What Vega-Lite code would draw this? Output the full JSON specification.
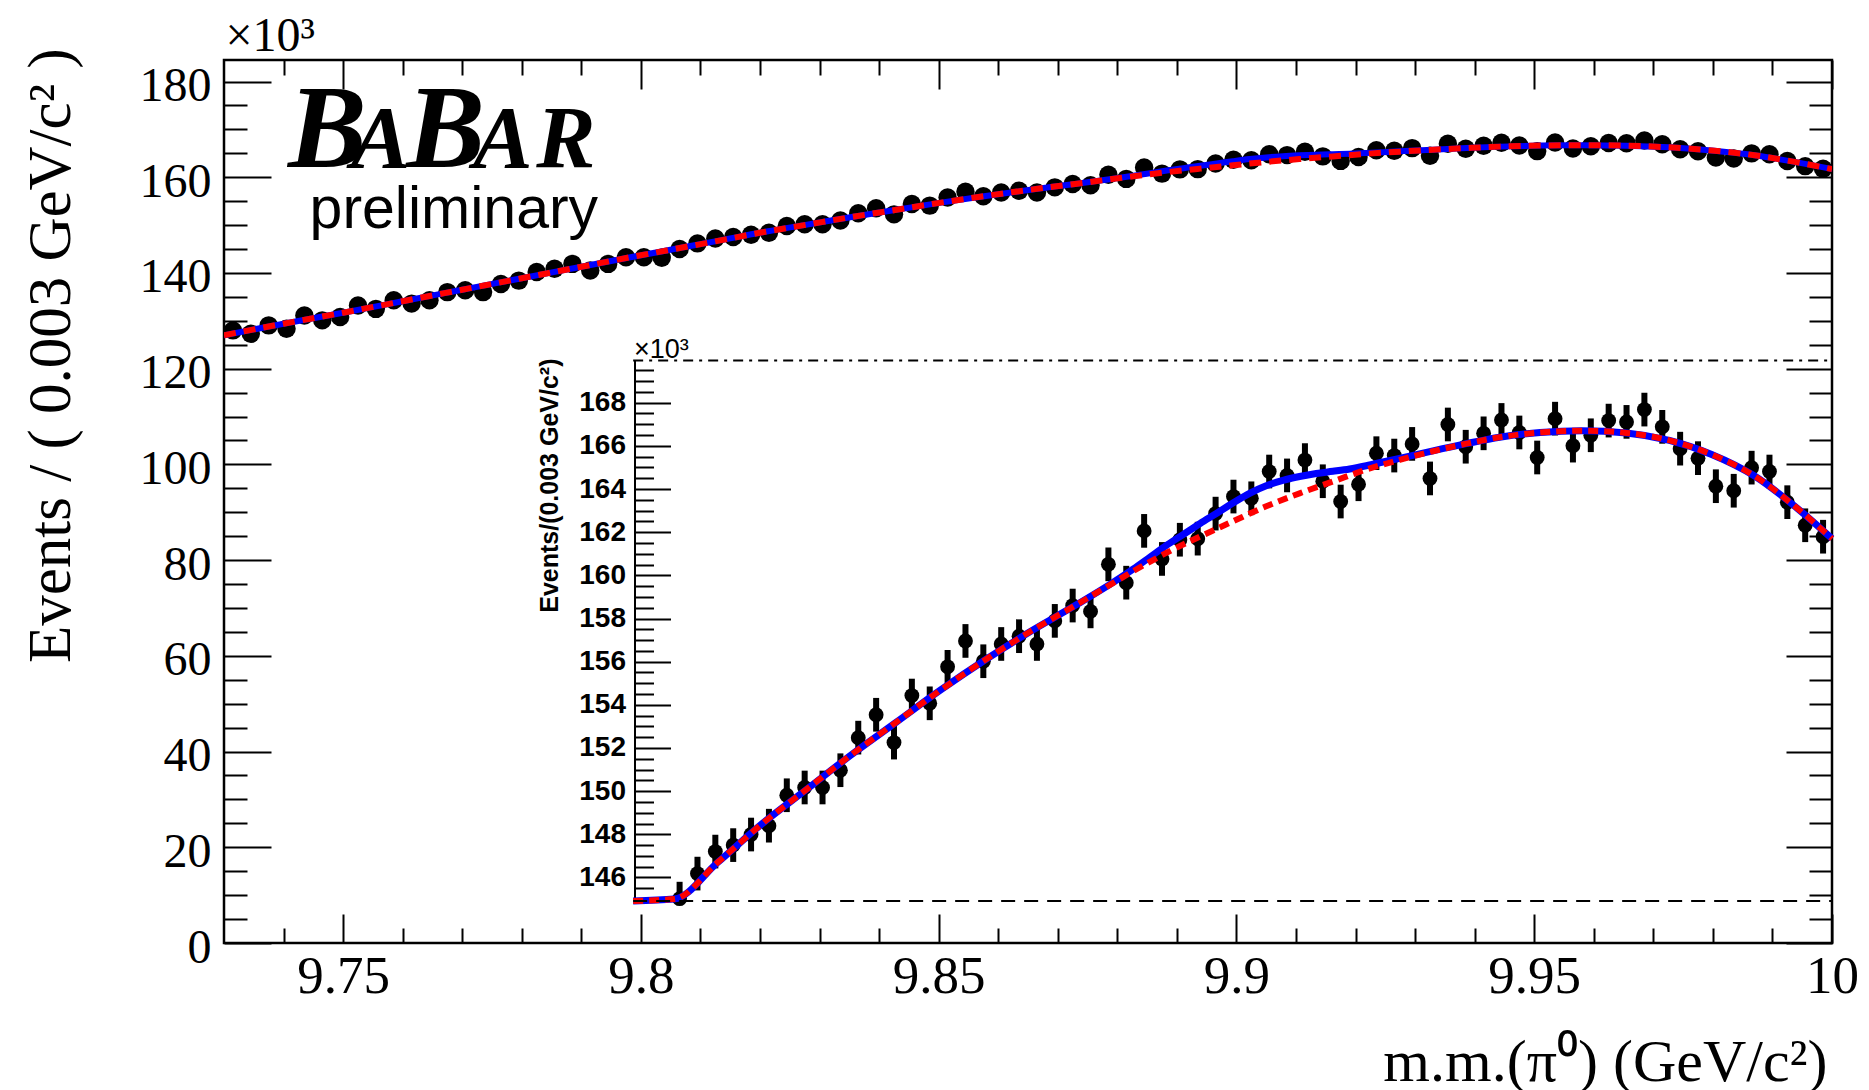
{
  "$schema": "https://vega.github.io/schema/vega-lite/v6.json",
  "width": 1608,
  "height": 883,
  "autosize": {"type": "none"},
  "padding": {"left": 224, "top": 60, "right": 37, "bottom": 147},
  "background": "white",
  "config": {
    "view": {"stroke": "black", "strokeWidth": 2.5},
    "axis": {"grid": false, "domain": false, "tickColor": "black", "tickWidth": 2, "labelColor": "black", "titleColor": "black", "labelFlush": false, "labelOverlap": false, "titleFontWeight": "normal"}
  },
  "datasets": {
    "pts": [
      {"x": 9.7315, "y": 128.0, "e": 0.78}, {"x": 9.7345, "y": 127.3, "e": 0.78}, {"x": 9.7375, "y": 129.05, "e": 0.78}, {"x": 9.7405, "y": 128.35, "e": 0.78},
      {"x": 9.7435, "y": 131.1, "e": 0.78}, {"x": 9.7465, "y": 130.1, "e": 0.78}, {"x": 9.7495, "y": 130.8, "e": 0.78}, {"x": 9.7525, "y": 133.2, "e": 0.78},
      {"x": 9.7555, "y": 132.5, "e": 0.78}, {"x": 9.7585, "y": 134.3, "e": 0.78}, {"x": 9.7615, "y": 133.6, "e": 0.78}, {"x": 9.7645, "y": 134.3, "e": 0.78},
      {"x": 9.7675, "y": 136.0, "e": 0.78}, {"x": 9.7705, "y": 136.4, "e": 0.78}, {"x": 9.7735, "y": 136.0, "e": 0.78}, {"x": 9.7765, "y": 137.7, "e": 0.78},
      {"x": 9.7795, "y": 138.4, "e": 0.78}, {"x": 9.7825, "y": 140.2, "e": 0.78}, {"x": 9.7855, "y": 140.9, "e": 0.78}, {"x": 9.7885, "y": 141.9, "e": 0.78},
      {"x": 9.7915, "y": 140.5, "e": 0.78}, {"x": 9.7945, "y": 141.9, "e": 0.78}, {"x": 9.7975, "y": 143.3, "e": 0.78}, {"x": 9.8005, "y": 143.3, "e": 0.78},
      {"x": 9.8035, "y": 143.2, "e": 0.78}, {"x": 9.8065, "y": 145.02, "e": 0.78}, {"x": 9.8095, "y": 146.18, "e": 0.78}, {"x": 9.8125, "y": 147.2, "e": 0.78},
      {"x": 9.8155, "y": 147.5, "e": 0.78}, {"x": 9.8185, "y": 147.99, "e": 0.78}, {"x": 9.8215, "y": 148.4, "e": 0.78}, {"x": 9.8245, "y": 149.81, "e": 0.78},
      {"x": 9.8275, "y": 150.17, "e": 0.78}, {"x": 9.8305, "y": 150.17, "e": 0.78}, {"x": 9.8335, "y": 150.97, "e": 0.78}, {"x": 9.8365, "y": 152.48, "e": 0.78},
      {"x": 9.8395, "y": 153.54, "e": 0.78}, {"x": 9.8425, "y": 152.25, "e": 0.78}, {"x": 9.8455, "y": 154.43, "e": 0.78}, {"x": 9.8485, "y": 154.07, "e": 0.78},
      {"x": 9.8515, "y": 155.76, "e": 0.78}, {"x": 9.8545, "y": 156.96, "e": 0.78}, {"x": 9.8575, "y": 156.02, "e": 0.78}, {"x": 9.8605, "y": 156.82, "e": 0.78},
      {"x": 9.8635, "y": 157.18, "e": 0.78}, {"x": 9.8665, "y": 156.82, "e": 0.78}, {"x": 9.8695, "y": 157.89, "e": 0.78}, {"x": 9.8725, "y": 158.6, "e": 0.78},
      {"x": 9.8755, "y": 158.33, "e": 0.78}, {"x": 9.8785, "y": 160.51, "e": 0.78}, {"x": 9.8815, "y": 159.66, "e": 0.78}, {"x": 9.8845, "y": 162.06, "e": 0.78},
      {"x": 9.8875, "y": 160.76, "e": 0.78}, {"x": 9.8905, "y": 161.65, "e": 0.78}, {"x": 9.8935, "y": 161.7, "e": 0.78}, {"x": 9.8965, "y": 162.86, "e": 0.78},
      {"x": 9.8995, "y": 163.65, "e": 0.78}, {"x": 9.9025, "y": 163.57, "e": 0.78}, {"x": 9.9055, "y": 164.81, "e": 0.78}, {"x": 9.9085, "y": 164.63, "e": 0.78},
      {"x": 9.9115, "y": 165.34, "e": 0.78}, {"x": 9.9145, "y": 164.36, "e": 0.78}, {"x": 9.9175, "y": 163.42, "e": 0.78}, {"x": 9.9205, "y": 164.22, "e": 0.78},
      {"x": 9.9235, "y": 165.66, "e": 0.78}, {"x": 9.9265, "y": 165.55, "e": 0.78}, {"x": 9.9295, "y": 166.09, "e": 0.78}, {"x": 9.9325, "y": 164.49, "e": 0.78},
      {"x": 9.9355, "y": 166.99, "e": 0.78}, {"x": 9.9385, "y": 165.96, "e": 0.78}, {"x": 9.9415, "y": 166.58, "e": 0.78}, {"x": 9.9445, "y": 167.2, "e": 0.78},
      {"x": 9.9475, "y": 166.62, "e": 0.78}, {"x": 9.9505, "y": 165.46, "e": 0.78}, {"x": 9.9535, "y": 167.26, "e": 0.78}, {"x": 9.9565, "y": 166.01, "e": 0.78},
      {"x": 9.9595, "y": 166.49, "e": 0.78}, {"x": 9.9625, "y": 167.17, "e": 0.78}, {"x": 9.9655, "y": 167.11, "e": 0.78}, {"x": 9.9685, "y": 167.68, "e": 0.78},
      {"x": 9.9715, "y": 166.88, "e": 0.78}, {"x": 9.9745, "y": 165.87, "e": 0.78}, {"x": 9.9775, "y": 165.43, "e": 0.78}, {"x": 9.9805, "y": 164.13, "e": 0.78},
      {"x": 9.9835, "y": 163.92, "e": 0.78}, {"x": 9.9865, "y": 164.99, "e": 0.78}, {"x": 9.9895, "y": 164.81, "e": 0.78}, {"x": 9.9925, "y": 163.39, "e": 0.78},
      {"x": 9.9955, "y": 162.32, "e": 0.78}, {"x": 9.9985, "y": 161.79, "e": 0.78}
    ],
    "curve": [
      {"s": "bg", "x": 9.73, "y": 127.0}, {"s": "bg", "x": 9.74, "y": 129.4}, {"s": "bg", "x": 9.75, "y": 131.7}, {"s": "bg", "x": 9.76, "y": 134.1},
      {"s": "bg", "x": 9.77, "y": 136.5}, {"s": "bg", "x": 9.78, "y": 138.9}, {"s": "bg", "x": 9.79, "y": 141.3}, {"s": "bg", "x": 9.7987, "y": 143.4},
      {"s": "bg", "x": 9.8056, "y": 145.0}, {"s": "bg", "x": 9.8129, "y": 146.7}, {"s": "bg", "x": 9.8204, "y": 148.5}, {"s": "bg", "x": 9.8279, "y": 150.1},
      {"s": "bg", "x": 9.8354, "y": 151.7}, {"s": "bg", "x": 9.8429, "y": 153.2}, {"s": "bg", "x": 9.8504, "y": 154.7}, {"s": "bg", "x": 9.8579, "y": 156.1},
      {"s": "bg", "x": 9.8654, "y": 157.4}, {"s": "bg", "x": 9.8729, "y": 158.6}, {"s": "bg", "x": 9.8787, "y": 159.55}, {"s": "bg", "x": 9.8827, "y": 160.2},
      {"s": "bg", "x": 9.8883, "y": 161.05}, {"s": "bg", "x": 9.8939, "y": 161.8}, {"s": "bg", "x": 9.8994, "y": 162.5}, {"s": "bg", "x": 9.905, "y": 163.2},
      {"s": "bg", "x": 9.9106, "y": 163.8}, {"s": "bg", "x": 9.9162, "y": 164.35}, {"s": "bg", "x": 9.9218, "y": 164.9}, {"s": "bg", "x": 9.9274, "y": 165.35},
      {"s": "bg", "x": 9.933, "y": 165.75}, {"s": "bg", "x": 9.9386, "y": 166.1}, {"s": "bg", "x": 9.9442, "y": 166.4}, {"s": "bg", "x": 9.951, "y": 166.62},
      {"s": "bg", "x": 9.958, "y": 166.7}, {"s": "bg", "x": 9.9655, "y": 166.6}, {"s": "bg", "x": 9.9727, "y": 166.25}, {"s": "bg", "x": 9.9798, "y": 165.6},
      {"s": "bg", "x": 9.987, "y": 164.6}, {"s": "bg", "x": 9.9942, "y": 163.1}, {"s": "bg", "x": 10.0, "y": 161.7},
      {"s": "tot", "x": 9.73, "y": 127.0}, {"s": "tot", "x": 9.74, "y": 129.4}, {"s": "tot", "x": 9.75, "y": 131.7}, {"s": "tot", "x": 9.76, "y": 134.1},
      {"s": "tot", "x": 9.77, "y": 136.5}, {"s": "tot", "x": 9.78, "y": 138.9}, {"s": "tot", "x": 9.79, "y": 141.3}, {"s": "tot", "x": 9.7987, "y": 143.4},
      {"s": "tot", "x": 9.8056, "y": 145.0}, {"s": "tot", "x": 9.8129, "y": 146.7}, {"s": "tot", "x": 9.8204, "y": 148.5}, {"s": "tot", "x": 9.8279, "y": 150.1},
      {"s": "tot", "x": 9.8354, "y": 151.7}, {"s": "tot", "x": 9.8429, "y": 153.2}, {"s": "tot", "x": 9.8504, "y": 154.7}, {"s": "tot", "x": 9.8579, "y": 156.1},
      {"s": "tot", "x": 9.8654, "y": 157.4}, {"s": "tot", "x": 9.8729, "y": 158.6}, {"s": "tot", "x": 9.8787, "y": 159.57}, {"s": "tot", "x": 9.8827, "y": 160.3},
      {"s": "tot", "x": 9.8855, "y": 160.85}, {"s": "tot", "x": 9.8883, "y": 161.4}, {"s": "tot", "x": 9.8911, "y": 161.9}, {"s": "tot", "x": 9.8939, "y": 162.4},
      {"s": "tot", "x": 9.8967, "y": 162.88}, {"s": "tot", "x": 9.8994, "y": 163.35}, {"s": "tot", "x": 9.9022, "y": 163.8}, {"s": "tot", "x": 9.905, "y": 164.15},
      {"s": "tot", "x": 9.9078, "y": 164.4}, {"s": "tot", "x": 9.9106, "y": 164.58}, {"s": "tot", "x": 9.9134, "y": 164.72}, {"s": "tot", "x": 9.9162, "y": 164.82},
      {"s": "tot", "x": 9.919, "y": 164.93}, {"s": "tot", "x": 9.9218, "y": 165.08}, {"s": "tot", "x": 9.9246, "y": 165.25}, {"s": "tot", "x": 9.9274, "y": 165.42},
      {"s": "tot", "x": 9.933, "y": 165.77}, {"s": "tot", "x": 9.9386, "y": 166.1}, {"s": "tot", "x": 9.9442, "y": 166.4}, {"s": "tot", "x": 9.951, "y": 166.62},
      {"s": "tot", "x": 9.958, "y": 166.7}, {"s": "tot", "x": 9.9655, "y": 166.6}, {"s": "tot", "x": 9.9727, "y": 166.25}, {"s": "tot", "x": 9.9798, "y": 165.6},
      {"s": "tot", "x": 9.987, "y": 164.6}, {"s": "tot", "x": 9.9942, "y": 163.1}, {"s": "tot", "x": 10.0, "y": 161.7}
    ]
  },
  "layer": [
    {
      "layer": [
        {
          "data": {"name": "pts"},
          "mark": {"type": "errorbar", "ticks": false, "thickness": 5, "color": "black"},
          "encoding": {
            "x": {"field": "x", "type": "quantitative", "scale": {"domain": [9.73, 10], "nice": false, "zero": false}, "axis": null},
            "y": {"field": "y", "type": "quantitative", "scale": {"domain": [0, 184.5], "nice": false, "zero": false}, "axis": null},
            "yError": {"field": "e"}
          }
        },
        {
          "data": {"name": "pts"},
          "mark": {"type": "circle", "size": 340, "color": "black", "opacity": 1, "clip": true},
          "encoding": {
            "x": {"field": "x", "type": "quantitative", "scale": {"domain": [9.73, 10], "nice": false, "zero": false},
              "axis": {"orient": "bottom", "values": [9.75, 9.8, 9.85, 9.9, 9.95, 10], "format": "~g", "tickSize": -29, "labelFont": "Liberation Serif", "labelFontSize": 53, "labelBaseline": "alphabetic", "labelPadding": 78,
                "title": "m.m.(π⁰) (GeV/c²)", "titleFont": "Liberation Serif", "titleFontSize": 60, "titleAlign": "right", "titleBaseline": "alphabetic", "titleX": 1603, "titleY": 137, "titleAngle": 0}},
            "y": {"field": "y", "type": "quantitative", "scale": {"domain": [0, 184.5], "nice": false, "zero": false},
              "axis": {"orient": "left", "values": [0, 20, 40, 60, 80, 100, 120, 140, 160, 180], "tickSize": -47, "labelFont": "Liberation Serif", "labelFontSize": 48, "labelPadding": 60, "labelOffset": 5, "labelAlign": "right", "labelBaseline": "middle",
                "title": "Events / ( 0.003 GeV/c² )", "titleFont": "Liberation Serif", "titleFontSize": 61, "titleAngle": -90, "titleAlign": "right", "titleBaseline": "alphabetic", "titleX": -155, "titleY": -12}}
          }
        },
        {
          "data": {"name": "curve"},
          "transform": [{"filter": "datum.s === 'tot'"}],
          "mark": {"type": "line", "color": "#0000ff", "strokeWidth": 6, "interpolate": "monotone", "clip": true},
          "encoding": {
            "x": {"field": "x", "type": "quantitative", "scale": {"domain": [9.73, 10], "nice": false, "zero": false},
              "axis": {"orient": "bottom", "values": [9.74, 9.76, 9.77, 9.78, 9.79, 9.81, 9.82, 9.83, 9.84, 9.86, 9.87, 9.88, 9.89, 9.91, 9.92, 9.93, 9.94, 9.96, 9.97, 9.98, 9.99], "tickSize": -15, "labels": false, "title": null}},
            "y": {"field": "y", "type": "quantitative", "scale": {"domain": [0, 184.5], "nice": false, "zero": false},
              "axis": {"orient": "left", "values": [5, 10, 15, 25, 30, 35, 45, 50, 55, 65, 70, 75, 85, 90, 95, 105, 110, 115, 125, 130, 135, 145, 150, 155, 165, 170, 175], "tickSize": -23, "labels": false, "title": null}}
          }
        },
        {
          "data": {"name": "curve"},
          "transform": [{"filter": "datum.s === 'bg'"}],
          "mark": {"type": "line", "color": "#ff0000", "strokeWidth": 6, "strokeDash": [12, 8], "interpolate": "monotone", "clip": true},
          "encoding": {
            "x": {"field": "x", "type": "quantitative", "scale": {"domain": [9.73, 10], "nice": false, "zero": false},
              "axis": {"orient": "top", "values": [9.75, 9.8, 9.85, 9.9, 9.95, 10], "tickSize": -29, "labels": false,
                "title": "×10³", "titleFont": "Liberation Serif", "titleFontSize": 48, "titleAngle": 0, "titleAlign": "left", "titleBaseline": "alphabetic", "titleX": 1, "titleY": -10}},
            "y": {"field": "y", "type": "quantitative", "scale": {"domain": [0, 184.5], "nice": false, "zero": false},
              "axis": {"orient": "right", "values": [0, 20, 40, 60, 80, 100, 120, 140, 160, 180], "tickSize": -46, "labels": false, "title": null}}
          }
        },
        {
          "data": {"values": [{}]},
          "mark": {"type": "text", "text": "B", "font": "Liberation Serif", "fontSize": 118, "fontStyle": "italic", "fontWeight": "bold", "align": "left", "baseline": "alphabetic", "color": "black"},
          "encoding": {
            "x": {"datum": 9.74076, "type": "quantitative", "scale": {"domain": [9.73, 10], "nice": false, "zero": false},
              "axis": {"orient": "top", "values": [9.74, 9.76, 9.77, 9.78, 9.79, 9.81, 9.82, 9.83, 9.84, 9.86, 9.87, 9.88, 9.89, 9.91, 9.92, 9.93, 9.94, 9.96, 9.97, 9.98, 9.99], "tickSize": -15, "labels": false, "title": null}},
            "y": {"datum": 162.04, "type": "quantitative", "scale": {"domain": [0, 184.5], "nice": false, "zero": false},
              "axis": {"orient": "right", "values": [5, 10, 15, 25, 30, 35, 45, 50, 55, 65, 70, 75, 85, 90, 95, 105, 110, 115, 125, 130, 135, 145, 150, 155, 165, 170, 175], "tickSize": -23, "labels": false, "title": null}}
          }
        },
        {
          "data": {"values": [{}]},
          "mark": {"type": "text", "text": "A", "font": "Liberation Serif", "fontSize": 89, "fontStyle": "italic", "fontWeight": "bold", "align": "left", "baseline": "alphabetic", "color": "black"},
          "encoding": {
            "x": {"datum": 9.75134, "type": "quantitative", "scale": {"domain": [9.73, 10], "nice": false, "zero": false}, "axis": null},
            "y": {"datum": 162.04, "type": "quantitative", "scale": {"domain": [0, 184.5], "nice": false, "zero": false}, "axis": null}
          }
        },
        {
          "data": {"values": [{}]},
          "mark": {"type": "text", "text": "B", "font": "Liberation Serif", "fontSize": 118, "fontStyle": "italic", "fontWeight": "bold", "align": "left", "baseline": "alphabetic", "color": "black"},
          "encoding": {
            "x": {"datum": 9.76059, "type": "quantitative", "scale": {"domain": [9.73, 10], "nice": false, "zero": false}, "axis": null},
            "y": {"datum": 162.04, "type": "quantitative", "scale": {"domain": [0, 184.5], "nice": false, "zero": false}, "axis": null}
          }
        },
        {
          "data": {"values": [{}]},
          "mark": {"type": "text", "text": "A", "font": "Liberation Serif", "fontSize": 89, "fontStyle": "italic", "fontWeight": "bold", "align": "left", "baseline": "alphabetic", "color": "black"},
          "encoding": {
            "x": {"datum": 9.77185, "type": "quantitative", "scale": {"domain": [9.73, 10], "nice": false, "zero": false}, "axis": null},
            "y": {"datum": 162.04, "type": "quantitative", "scale": {"domain": [0, 184.5], "nice": false, "zero": false}, "axis": null}
          }
        },
        {
          "data": {"values": [{}]},
          "mark": {"type": "text", "text": "R", "font": "Liberation Serif", "fontSize": 89, "fontStyle": "italic", "fontWeight": "bold", "align": "left", "baseline": "alphabetic", "color": "black"},
          "encoding": {
            "x": {"datum": 9.78244, "type": "quantitative", "scale": {"domain": [9.73, 10], "nice": false, "zero": false}, "axis": null},
            "y": {"datum": 162.04, "type": "quantitative", "scale": {"domain": [0, 184.5], "nice": false, "zero": false}, "axis": null}
          }
        },
        {
          "data": {"values": [{}]},
          "mark": {"type": "text", "text": "preliminary", "font": "Liberation Sans", "fontSize": 59, "align": "left", "baseline": "alphabetic", "color": "black"},
          "encoding": {
            "x": {"datum": 9.74437, "type": "quantitative", "scale": {"domain": [9.73, 10], "nice": false, "zero": false}, "axis": null},
            "y": {"datum": 149.5, "type": "quantitative", "scale": {"domain": [0, 184.5], "nice": false, "zero": false}, "axis": null}
          }
        }
      ],
      "resolve": {"axis": {"x": "independent", "y": "independent"}}
    },
    {
      "layer": [
        {
          "data": {"name": "pts"},
          "transform": [{"filter": "datum.x >= 9.7987 && datum.y >= 144.915"}],
          "mark": {"type": "errorbar", "ticks": false, "thickness": 6, "color": "black"},
          "encoding": {
            "x": {"field": "x", "type": "quantitative", "scale": {"domain": [9.73, 10], "nice": false, "zero": false}, "axis": null},
            "y": {"field": "y", "type": "quantitative", "scale": {"domain": [144.915, 169.95], "range": [840.9, 300.6], "clamp": true, "nice": false, "zero": false}, "axis": null},
            "yError": {"field": "e"}
          }
        },
        {
          "data": {"name": "pts"},
          "transform": [{"filter": "datum.x >= 9.7987 && datum.y >= 144.915"}],
          "mark": {"type": "circle", "size": 220, "color": "black", "opacity": 1},
          "encoding": {
            "x": {"field": "x", "type": "quantitative", "scale": {"domain": [9.73, 10], "nice": false, "zero": false}, "axis": null},
            "y": {"field": "y", "type": "quantitative", "scale": {"domain": [144.915, 169.95], "range": [840.9, 300.6], "clamp": true, "nice": false, "zero": false},
              "axis": {"orient": "left", "offset": -410.5, "values": [146, 148, 150, 152, 154, 156, 158, 160, 162, 164, 166, 168], "tickSize": -36, "domain": true, "domainColor": "black", "domainWidth": 2,
                "labelFont": "Liberation Sans", "labelFontWeight": "bold", "labelFontSize": 28, "labelPadding": 45, "labelAlign": "right", "labelBaseline": "middle",
                "title": "Events/(0.003 GeV/c²)", "titleFont": "Liberation Sans", "titleFontWeight": "bold", "titleFontSize": 25, "titleAngle": -90, "titleAlign": "right", "titleBaseline": "alphabetic", "titleX": -77.5, "titleY": 298}}
          }
        },
        {
          "data": {"name": "curve"},
          "transform": [{"filter": "datum.s === 'tot' && datum.x >= 9.7987"}],
          "mark": {"type": "line", "color": "#0000ff", "strokeWidth": 7, "interpolate": "monotone"},
          "encoding": {
            "x": {"field": "x", "type": "quantitative", "scale": {"domain": [9.73, 10], "nice": false, "zero": false}, "axis": null},
            "y": {"field": "y", "type": "quantitative", "scale": {"domain": [144.915, 169.95], "range": [840.9, 300.6], "clamp": true, "nice": false, "zero": false},
              "axis": {"orient": "left", "offset": -410.5, "values": [145, 145.5, 146.5, 147, 147.5, 148.5, 149, 149.5, 150.5, 151, 151.5, 152.5, 153, 153.5, 154.5, 155, 155.5, 156.5, 157, 157.5, 158.5, 159, 159.5, 160.5, 161, 161.5, 162.5, 163, 163.5, 164.5, 165, 165.5, 166.5, 167, 167.5, 168.5, 169, 169.5], "tickSize": -19, "labels": false,
                "title": "×10³", "titleFont": "Liberation Sans", "titleFontSize": 27, "titleAngle": 0, "titleAlign": "left", "titleBaseline": "alphabetic", "titleX": -1, "titleY": 297}}
          }
        },
        {
          "data": {"name": "curve"},
          "transform": [{"filter": "datum.s === 'bg' && datum.x >= 9.7987"}],
          "mark": {"type": "line", "color": "#ff0000", "strokeWidth": 6, "strokeDash": [10, 6], "interpolate": "monotone"},
          "encoding": {
            "x": {"field": "x", "type": "quantitative", "scale": {"domain": [9.73, 10], "nice": false, "zero": false}, "axis": null},
            "y": {"field": "y", "type": "quantitative", "scale": {"domain": [144.915, 169.95], "range": [840.9, 300.6], "clamp": true, "nice": false, "zero": false}, "axis": null}
          }
        },
        {
          "data": {"values": [{}]},
          "mark": {"type": "rule", "color": "black", "strokeWidth": 2, "strokeDash": [10, 6, 3, 6]},
          "encoding": {
            "x": {"datum": 9.7987, "type": "quantitative", "scale": {"domain": [9.73, 10], "nice": false, "zero": false}, "axis": null},
            "x2": {"datum": 10},
            "y": {"datum": 169.95, "type": "quantitative", "scale": {"domain": [144.915, 169.95], "range": [840.9, 300.6], "clamp": true, "nice": false, "zero": false}, "axis": null}
          }
        },
        {
          "data": {"values": [{}]},
          "mark": {"type": "rule", "color": "black", "strokeWidth": 2, "strokeDash": [14, 9]},
          "encoding": {
            "x": {"datum": 9.7987, "type": "quantitative", "scale": {"domain": [9.73, 10], "nice": false, "zero": false}, "axis": null},
            "x2": {"datum": 10},
            "y": {"datum": 144.915, "type": "quantitative", "scale": {"domain": [144.915, 169.95], "range": [840.9, 300.6], "clamp": true, "nice": false, "zero": false}, "axis": null}
          }
        }
      ],
      "resolve": {"axis": {"x": "independent", "y": "independent"}}
    }
  ],
  "resolve": {"scale": {"y": "independent"}, "axis": {"x": "independent", "y": "independent"}}
}
